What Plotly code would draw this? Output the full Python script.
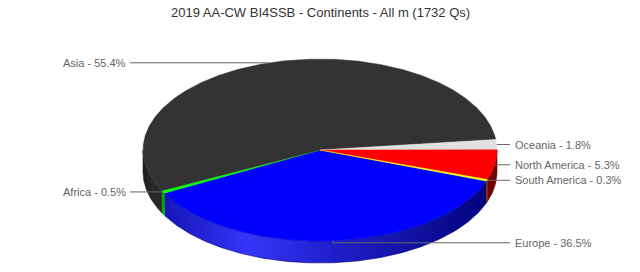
import numpy as np
import plotly.graph_objects as go

# ---- data ----
labels = ["Europe", "Africa", "Asia", "Oceania", "North America", "South America"]
shares = [36.5, 0.5, 55.4, 1.8, 5.3, 0.3]
top_colors = ["#0000ff", "#00ff00", "#333333", "#e0e0e0", "#ff0000", "#ffff00"]
side_scales = [
    [[0, "#1010a8"], [0.06, "#1515b8"], [0.3, "#3535f8"], [0.53, "#2020cc"], [0.78, "#10109f"], [1, "#00007a"]],
    [[0, "#00b000"], [1, "#00b000"]],
    [[0, "#1c1c1c"], [0.03, "#2a2a2a"], [0.06, "#242424"], [1, "#242424"]],
    [[0, "#a0a0a0"], [1, "#a0a0a0"]],
    [[0, "#8b0000"], [1, "#700000"]],
    [[0, "#7a3000"], [1, "#7a3000"]],
]
title = "2019 AA-CW BI4SSB - Continents - All m (1732 Qs)"

# ---- geometry (style) ----
W, H = 640, 272
cx, cy, rx, ry, depth = 320, 150, 177, 91, 22
start_deg = 20.0
font = "Liberation Sans, Arial, sans-serif"

total = sum(shares)
fig = go.Figure()

angles = []
a = start_deg
for s in shares:
    b = a + s / total * 360.0
    angles.append((a, b))
    a = b

def arc(a, b, dy=0.0, n=None):
    if n is None:
        n = max(3, int(abs(b - a) * 2) + 2)
    t = np.radians(np.linspace(a, b, n))
    return cx + rx * np.cos(t), cy + ry * np.sin(t) + dy

# side walls (front half, 0..180 deg)
for (a, b), sc in zip(angles, side_scales):
    for off in (0, -360, 360):
        lo, hi = max(a + off, 0), min(b + off, 180)
        if hi > lo:
            x1, y1 = arc(lo, hi)
            x2, y2 = arc(hi, lo, depth)
            xs = np.concatenate([x1, x2, x1[:1]])
            ys = np.concatenate([y1, y2, y1[:1]])
            fig.add_trace(go.Scatter(
                x=xs, y=ys, mode="lines", fill="toself",
                line=dict(width=0.6, color=sc[-1][1]),
                fillgradient=dict(type="horizontal", colorscale=sc,
                                  start=cx - rx, stop=cx + rx),
                hoverinfo="skip", showlegend=False))

# top faces
for (a, b), col in zip(angles, top_colors):
    x1, y1 = arc(a, b)
    xs = np.concatenate([[cx], x1, [cx]])
    ys = np.concatenate([[cy], y1, [cy]])
    fig.add_trace(go.Scatter(
        x=xs, y=ys, mode="lines", fill="toself", fillcolor=col,
        line=dict(width=0.4, color=col),
        hoverinfo="skip", showlegend=False))

# labels and connectors
for lab, s, (a, b) in zip(labels, shares, angles):
    m = np.radians((a + b) / 2)
    px, py = cx + rx * np.cos(m), cy + ry * np.sin(m)
    right = np.cos(m) > 0
    if lab == "Europe":
        right = True
    ly = py + (2 if lab == "Europe" else 0)
    if right:
        lx_line, lx_text, anchor = 510, 513, "left"
    else:
        lx_line, lx_text, anchor = 130, 128, "right"
    fig.add_trace(go.Scatter(
        x=[px, px, lx_line], y=[py, ly, ly], mode="lines",
        line=dict(width=1, color="#666666"),
        hoverinfo="skip", showlegend=False))
    fig.add_annotation(x=lx_text, y=ly, text=f"{lab} - {s}%", showarrow=False,
                       xanchor=anchor, yanchor="middle",
                       font=dict(family=font, size=11, color="#666666"))

fig.add_annotation(x=W / 2, y=12, text=title, showarrow=False,
                   xanchor="center", yanchor="middle",
                   font=dict(family=font, size=13, color="#333333"))

fig.update_layout(
    width=W, height=H, margin=dict(l=0, r=0, t=0, b=0),
    paper_bgcolor="white", plot_bgcolor="white",
    xaxis=dict(range=[0, W], visible=False, fixedrange=True),
    yaxis=dict(range=[H, 0], visible=False, fixedrange=True),
)
fig.write_html("out.html")
